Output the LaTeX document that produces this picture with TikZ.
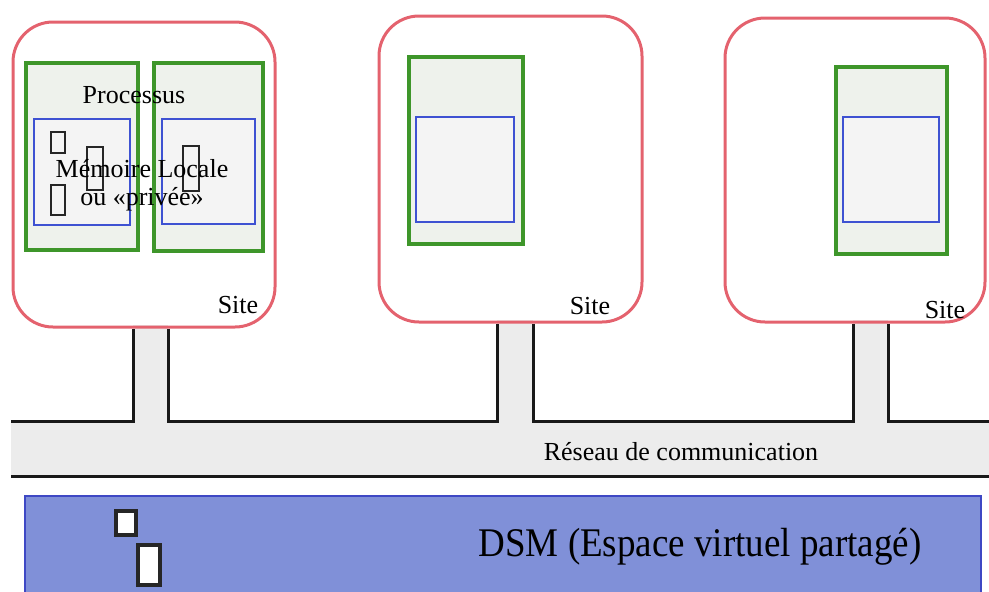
\documentclass[tikz,border=0pt]{standalone}
\usepackage{fontspec}
\setmainfont{Liberation Serif}
\definecolor{sitered}{RGB}{228,98,110}
\definecolor{procgreen}{RGB}{62,150,42}
\definecolor{procfill}{RGB}{238,242,236}
\definecolor{memblue}{RGB}{62,82,210}
\definecolor{memfill}{RGB}{244,244,244}
\definecolor{netfill}{RGB}{236,236,236}
\definecolor{dsmfill}{RGB}{128,144,216}
\definecolor{dsmedge}{RGB}{62,72,196}
\begin{document}
\begin{tikzpicture}[x=1pt,y=-1pt,
  sitebox/.style={draw=sitered,line width=3pt,rounded corners=40pt,inner sep=0pt},
  procbox/.style={draw=procgreen,fill=procfill,line width=3.5pt,inner sep=0pt},
  membox/.style={draw=memblue,fill=memfill,line width=1.8pt,inner sep=0pt},
  pagebox/.style={draw=black!85,line width=2.8pt,inner sep=0pt},
  netline/.style={draw=black!90,line width=3pt},
  lbl/.style={font=\fontsize{26}{28}\selectfont,inner sep=0pt,align=center}]
\useasboundingbox (0,0) rectangle (989,592);
\clip (0,0) rectangle (989,592);

% network band and the stems leading up to each site
\fill[netfill] (11,421) rectangle (989,476);
\fill[netfill] (133,325) rectangle (168,421);
\fill[netfill] (497,320) rectangle (533,421);
\fill[netfill] (853,320) rectangle (888,421);

% sites
\node[sitebox,minimum width=262pt,minimum height=305pt] (site1) at (144,174.5) {};
\node[sitebox,minimum width=263pt,minimum height=306pt] (site2) at (510.5,169) {};
\node[sitebox,minimum width=260pt,minimum height=304pt] (site3) at (855,170) {};

% processes (green) and their local memories (blue)
\node[procbox,minimum width=112pt,minimum height=187pt] (p1a) at (82,156.5) {};
\node[procbox,minimum width=109pt,minimum height=188pt] (p1b) at (208.5,157) {};
\node[procbox,minimum width=114pt,minimum height=187pt] (p2) at (466,150.5) {};
\node[procbox,minimum width=111pt,minimum height=187pt] (p3) at (891.5,160.5) {};

\node[membox,minimum width=96pt,minimum height=106pt] (m1a) at (82,172) {};
\node[membox,minimum width=93pt,minimum height=105pt] (m1b) at (208.5,171.5) {};
\node[membox,minimum width=98pt,minimum height=105pt] (m2) at (465,169.5) {};
\node[membox,minimum width=96pt,minimum height=105pt] (m3) at (891,169.5) {};

% pages held in local memory
\node[pagebox,minimum width=14pt,minimum height=21pt] (pg1) at (58,142.5) {};
\node[pagebox,minimum width=14pt,minimum height=30pt] (pg2) at (58,200) {};
\node[pagebox,minimum width=16pt,minimum height=43pt] (pg3) at (95,168.5) {};
\node[pagebox,minimum width=16pt,minimum height=45pt] (pg4) at (191,168.5) {};

% network wiring
\coordinate (n0) at (11,421);
\coordinate (n1) at (989,421);
\coordinate (b0) at (11,476);
\coordinate (b1) at (989,476);
\draw[netline] (n0) -- (133,421) -- (133,0 |- site1.south);
\draw[netline] (168,0 |- site1.south) -- (168,421) -- (497,421) -- (497,0 |- site2.south);
\draw[netline] (533,0 |- site2.south) -- (533,421) -- (853,421) -- (853,0 |- site3.south);
\draw[netline] (888,0 |- site3.south) -- (888,421) -- (n1);
\draw[netline] (b0) -- (b1);

% shared virtual space
\node[draw=dsmedge,fill=dsmfill,line width=2.5pt,minimum width=956pt,minimum height=120pt,inner sep=0pt] (dsm) at (503,556) {};
\node[pagebox,fill=white,line width=3.4pt,minimum width=20pt,minimum height=24pt] (dp1) at (126,523) {};
\node[pagebox,fill=white,line width=3.4pt,minimum width=22pt,minimum height=40pt] (dp2) at (149,565) {};

% labels
\node[lbl] (tproc) at (134,95) {Processus};
\node[lbl] (tmem) at (142,185) {Mémoire Locale\\ou «privée»};
\node[lbl] (ts1) at (238,305) {Site};
\node[lbl] (ts2) at (590,306) {Site};
\node[lbl] (ts3) at (945,310) {Site};
\node[lbl] (tnet) at (681,452) {Réseau de communication};
\node[lbl,font=\fontsize{37}{40}\selectfont] (tdsm) at (700,547) {\scalebox{1}[1.1]{DSM (Espace virtuel partagé)}};
\end{tikzpicture}
\end{document}
